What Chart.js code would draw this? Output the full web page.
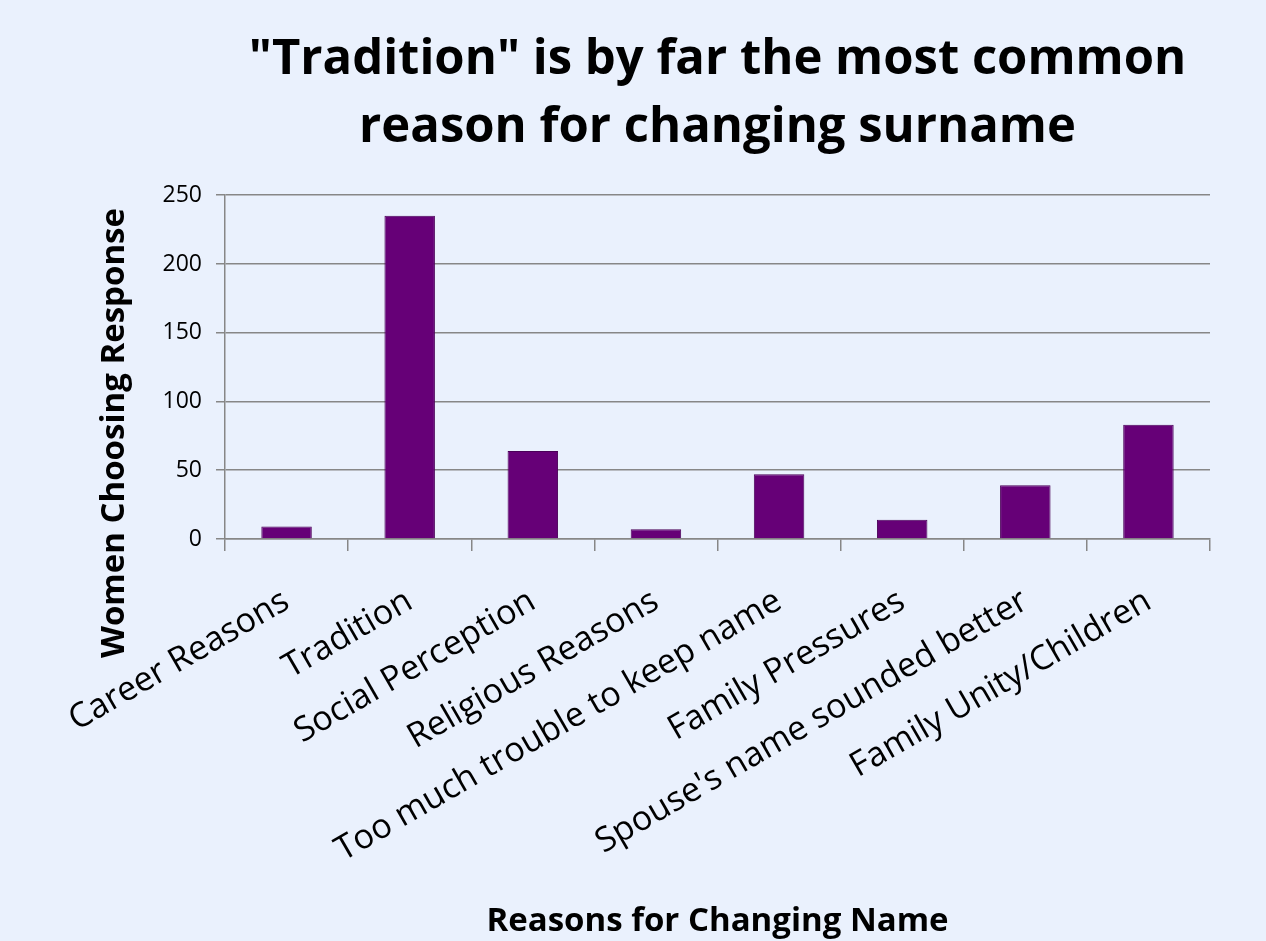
<!DOCTYPE html>
<html>
<head>
<meta charset="utf-8">
<script src="https://cdn.jsdelivr.net/npm/chart.js@4"></script>
<style>
  html, body { margin: 0; padding: 0; background: #eaf1fd; }
  #wrap { width: 1266px; height: 941px; position: relative; }
</style>
</head>
<body>
<div id="wrap"><canvas id="chart"></canvas></div>
<script>
// ======= Data =======
const categories = [
  'Career Reasons',
  'Tradition',
  'Social Perception',
  'Religious Reasons',
  'Too much trouble to keep name',
  'Family Pressures',
  "Spouse's name sounded better",
  'Family Unity/Children'
];
const womenCounts = [9, 235, 64, 7, 47, 14, 39, 83];
const titleLines = ['"Tradition" is by far the most common', 'reason for changing surname'];
const yTitle = 'Women Choosing Response';
const xTitle = 'Reasons for Changing Name';

// ======= Style =======
const FONT = "'Open Sans', 'DejaVu Sans', sans-serif";
const AXIS_GREY = '#878787';

// y axis title drawn by hand so it sits where the original had it
const yTitlePlugin = {
  id: 'yTitle',
  afterDraw(chart) {
    const ctx = chart.ctx;
    ctx.save();
    ctx.translate(115, 433);
    ctx.rotate(-Math.PI / 2);
    ctx.font = `bold 33px ${FONT}`;
    ctx.fillStyle = '#000';
    ctx.textAlign = 'center';
    ctx.textBaseline = 'middle';
    ctx.fillText(yTitle, 0, 0);
    ctx.restore();
  }
};

new Chart(document.getElementById('chart'), {
  type: 'bar',
  data: {
    labels: categories,
    datasets: [{
      data: womenCounts,
      backgroundColor: '#660077',
      borderColor: '#4a0058',
      borderWidth: 1,
      barPercentage: 0.41,
      categoryPercentage: 1
    }]
  },
  options: {
    responsive: true,
    maintainAspectRatio: false,
    animation: false,
    layout: { padding: { top: 0, right: 56, bottom: 0, left: 0 } },
    plugins: {
      legend: { display: false },
      tooltip: { enabled: false },
      title: {
        display: true,
        fullSize: false,
        text: titleLines,
        color: '#000',
        font: { family: FONT, size: 49, weight: 'bold', lineHeight: 1.39 },
        padding: { top: 26, bottom: 33 }
      }
    },
    scales: {
      x: {
        afterFit: s => { s.height = 941 - 539; },
        grid: { drawOnChartArea: false, drawTicks: true, tickLength: 12, color: AXIS_GREY, lineWidth: 1.5 },
        border: { color: AXIS_GREY, width: 1.5 },
        ticks: {
          color: '#000',
          font: { family: FONT, size: 34 },
          minRotation: 30,
          maxRotation: 30,
          autoSkip: false,
          padding: 30
        },
        title: {
          display: true,
          text: xTitle,
          color: '#000',
          font: { family: FONT, size: 33, weight: 'bold' },
          padding: { top: 0, bottom: 0 }
        }
      },
      y: {
        min: 0,
        max: 250,
        afterFit: s => { s.width = 225; },
        grid: { color: AXIS_GREY, lineWidth: 1.5, tickLength: 9 },
        border: { color: AXIS_GREY, width: 1.5 },
        ticks: {
          stepSize: 50,
          color: '#000',
          font: { family: FONT, size: 23 },
          padding: 14
        }
      }
    }
  },
  plugins: [yTitlePlugin]
});
</script>
</body>
</html>
